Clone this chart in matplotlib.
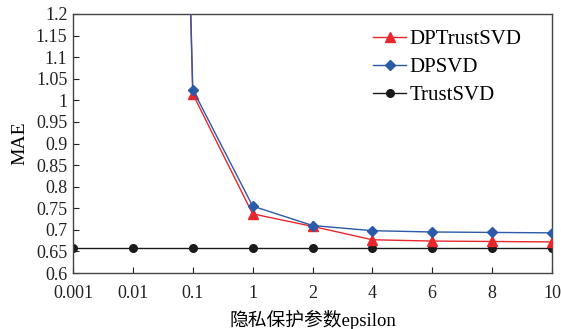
import matplotlib.pyplot as plt
import numpy as np

plt.rcParams["font.family"] = ["Liberation Serif", "Noto Sans CJK SC"]
plt.rcParams["mathtext.fontset"] = "stix"

# data
eps_labels = ["0.001", "0.01", "0.1", "1", "2", "4", "6", "8", "10"]
dptrustsvd = [6.5, 6.3, 1.015, 0.737, 0.708, 0.677, 0.674, 0.673, 0.672]
dpsvd = [6.6, 6.4, 1.025, 0.755, 0.710, 0.698, 0.695, 0.694, 0.693]
trustsvd = [0.658, 0.658, 0.658, 0.658, 0.658, 0.658, 0.658, 0.658, 0.658]

x = np.arange(len(eps_labels))

fig = plt.figure(figsize=(5.61, 3.29), dpi=100)
ax = fig.add_axes([73 / 561, 1 - 273 / 329, (552 - 73) / 561, (273 - 14) / 329])

ax.plot(x, dptrustsvd, color="#e8262b", marker="^", markersize=7, linewidth=1.0,
        label="DPTrustSVD", zorder=3)
ax.plot(x, dpsvd, color="#2b5aa8", marker="D", markersize=5.5, linewidth=1.0,
        label="DPSVD", zorder=4)
ax.plot(x, trustsvd, color="#1a1a1a", marker="o", markersize=5.5, linewidth=1.0,
        label="TrustSVD", zorder=2)

ax.set_xlim(0, len(eps_labels) - 1)
ax.set_ylim(0.6, 1.2)
ax.set_xticks(x)
ax.set_xticklabels(eps_labels)
yt = np.round(np.arange(0.6, 1.2001, 0.05), 2)
ax.set_yticks(yt)
ax.set_yticklabels([("%g" % v) for v in yt])
ax.tick_params(direction="in", length=4, width=0.8, labelsize=13, colors="#222222")
ax.tick_params(axis="y", pad=4)
ax.tick_params(axis="x", pad=9)
for s in ax.spines.values():
    s.set_color("#444444")
    s.set_linewidth(1.0)

ax.set_ylabel("MAE", fontsize=14, labelpad=5)
ax.set_xlabel("隐私保护参数epsilon", fontsize=13.5, labelpad=5)

ax.legend(loc="upper left", bbox_to_anchor=(0.626, 0.94), frameon=False, fontsize=15,
          borderpad=0, borderaxespad=0,
          handlelength=1.6, handletextpad=0.15, labelspacing=0.4)

fig.savefig("out.png", dpi=100, facecolor="white")
